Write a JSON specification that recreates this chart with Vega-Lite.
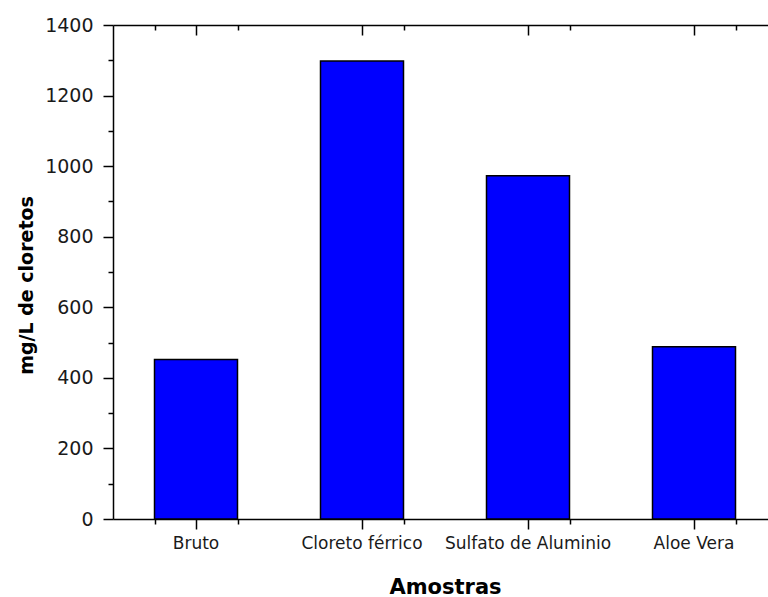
{
  "$schema": "https://vega.github.io/schema/vega-lite/v6.json",
  "width": 655,
  "height": 494,
  "autosize": {"type": "none"},
  "padding": {"left": 113, "top": 25, "right": 0, "bottom": 78},
  "background": "white",
  "data": {
    "values": [
      {"amostra": "Bruto", "valor": 452},
      {"amostra": "Cloreto férrico", "valor": 1298},
      {"amostra": "Sulfato de Aluminio", "valor": 973},
      {"amostra": "Aloe Vera", "valor": 488}
    ]
  },
  "config": {
    "view": {"stroke": null},
    "axis": {
      "domainColor": "black",
      "tickColor": "black",
      "labelColor": "#1a1a1a",
      "titleColor": "black",
      "domainWidth": 1.5,
      "tickWidth": 1.5,
      "grid": false
    }
  },
  "layer": [
    {
      "mark": {"type": "bar", "fill": "#0000ff", "stroke": "black", "strokeWidth": 1.5},
      "encoding": {
        "x": {
          "field": "amostra", "type": "nominal", "sort": null,
          "scale": {"range": [0, 664], "paddingInner": 0.5, "paddingOuter": 0.25},
          "axis": {
            "orient": "bottom", "labelAngle": 0, "tickSize": 10, "labelPadding": 6,
            "labelFont": "DejaVu Sans", "labelFontSize": 17,
            "title": "Amostras", "titleFont": "DejaVu Sans", "titleFontSize": 21,
            "titleFontWeight": "bold", "titleBaseline": "alphabetic", "titleY": 74
          }
        },
        "y": {
          "field": "valor", "type": "quantitative",
          "scale": {"domain": [0, 1400], "nice": false},
          "axis": {
            "orient": "left", "values": [0, 200, 400, 600, 800, 1000, 1200, 1400],
            "format": "d",
            "tickSize": 10, "labelPadding": 10,
            "labelFont": "DejaVu Sans", "labelFontSize": 19,
            "title": "mg/L de cloretos", "titleFont": "DejaVu Sans", "titleFontSize": 19,
            "titleFontWeight": "bold", "titleAngle": -90, "titleBaseline": "alphabetic",
            "titleAlign": "center", "titleX": -81, "titleY": 260
          }
        }
      }
    },
    {
      "mark": {"type": "bar", "opacity": 0},
      "encoding": {
        "x": {
          "field": "amostra", "type": "nominal", "sort": null,
          "scale": {"range": [0, 664], "paddingInner": 0.5, "paddingOuter": 0.25},
          "axis": {"orient": "top", "labels": false, "tickSize": -10, "title": null, "domain": true}
        },
        "y": {
          "field": "valor", "type": "quantitative",
          "scale": {"domain": [0, 1400], "nice": false},
          "axis": {
            "orient": "left", "values": [100, 300, 500, 700, 900, 1100, 1300],
            "tickSize": 5, "labels": false, "domain": false, "title": null
          }
        }
      }
    },
    {
      "mark": {"type": "bar", "opacity": 0},
      "encoding": {
        "x": {
          "field": "amostra", "type": "nominal", "sort": null,
          "scale": {"range": [0, 664], "paddingInner": 0.5, "paddingOuter": 0.25},
          "axis": {"orient": "bottom", "labels": false, "tickSize": 5, "tickBand": "extent", "title": null, "domain": false}
        },
        "y": {
          "field": "valor", "type": "quantitative",
          "scale": {"domain": [0, 1400], "nice": false},
          "axis": null
        }
      }
    },
    {
      "mark": {"type": "bar", "opacity": 0},
      "encoding": {
        "x": {
          "field": "amostra", "type": "nominal", "sort": null,
          "scale": {"range": [0, 664], "paddingInner": 0.5, "paddingOuter": 0.25},
          "axis": {"orient": "top", "labels": false, "tickSize": -5, "tickBand": "extent", "title": null, "domain": false}
        },
        "y": {
          "field": "valor", "type": "quantitative",
          "scale": {"domain": [0, 1400], "nice": false},
          "axis": null
        }
      }
    }
  ],
  "resolve": {"axis": {"x": "independent", "y": "independent"}}
}
